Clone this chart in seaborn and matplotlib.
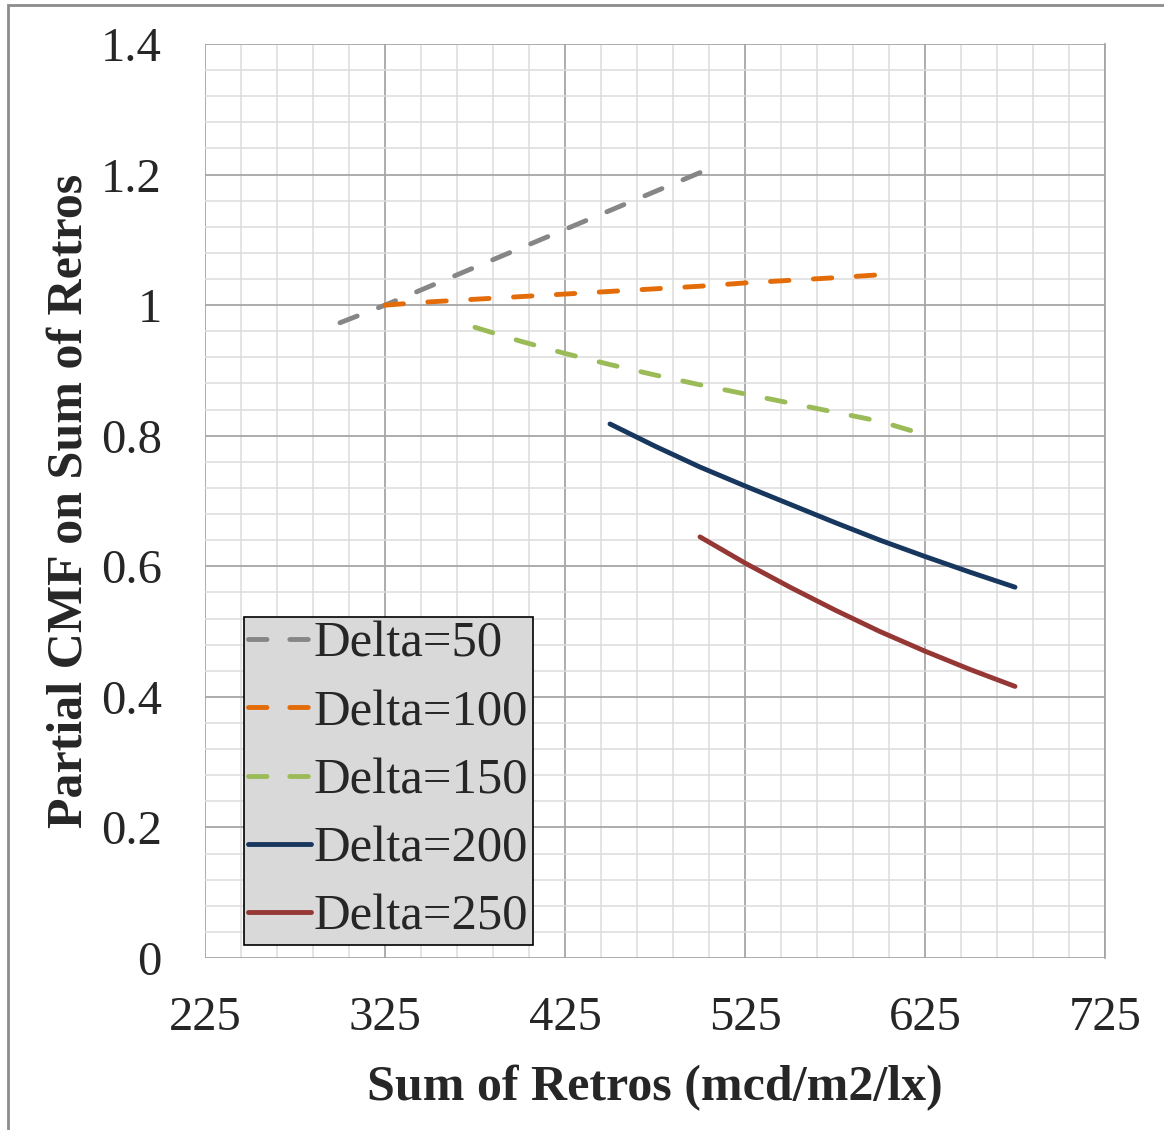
import numpy as np
import matplotlib
matplotlib.use("Agg")
import matplotlib.pyplot as plt
import seaborn as sns
import pandas as pd
from matplotlib.patches import Rectangle

# Values
x_d50 = [300, 325, 350, 375, 400, 425, 450, 475, 500]
y_d50 = [0.973, 1.000, 1.029, 1.058, 1.087, 1.116, 1.145, 1.174, 1.203]

x_d100 = [325, 350, 375, 400, 425, 450, 475, 500, 525, 550, 575, 597]
y_d100 = [1.000, 1.005, 1.009, 1.013, 1.017, 1.021, 1.025, 1.029, 1.034, 1.038, 1.042, 1.046]

x_d150 = [375, 400, 425, 450, 475, 500, 525, 550, 575, 600, 617]
y_d150 = [0.966, 0.945, 0.926, 0.909, 0.893, 0.878, 0.864, 0.850, 0.836, 0.822, 0.808]

x_d200 = [450, 475, 500, 525, 550, 575, 600, 625, 650, 675]
y_d200 = [0.818, 0.784, 0.752, 0.723, 0.695, 0.667, 0.640, 0.615, 0.591, 0.568]

x_d250 = [500, 525, 550, 575, 600, 625, 650, 675]
y_d250 = [0.645, 0.605, 0.568, 0.533, 0.500, 0.470, 0.442, 0.416]

labels = ["Delta=50", "Delta=100", "Delta=150", "Delta=200", "Delta=250"]
colors = ["#868686", "#e36c09", "#9bbb59", "#17375e", "#953735"]
dashed = [True, True, True, False, False]

x_ticks = [225, 325, 425, 525, 625, 725]
y_ticks = [0, 0.2, 0.4, 0.6, 0.8, 1.0, 1.2, 1.4]
y_tick_labels = ["0", "0.2", "0.4", "0.6", "0.8", "1", "1.2", "1.4"]

frames = []
for lab, xs, ys in zip(labels,
                       [x_d50, x_d100, x_d150, x_d200, x_d250],
                       [y_d50, y_d100, y_d150, y_d200, y_d250]):
    frames.append(pd.DataFrame({"x": xs, "y": ys, "series": lab}))
df = pd.concat(frames, ignore_index=True)

sns.set_style("white")
plt.rcParams["font.family"] = ["Liberation Serif", "DejaVu Serif"]

fig = plt.figure(figsize=(11.64, 11.30), dpi=100)
ax = fig.add_axes([205 / 1164, 1 - 958 / 1130, 900 / 1164, 914 / 1130])

lw = 3.5
dash = (3.8, 4.7)

sns.lineplot(data=df, x="x", y="y", hue="series", hue_order=labels,
             palette=colors, sort=False, estimator=None, ax=ax,
             linewidth=lw, legend=False)

ax.set_xlim(225, 725)
ax.set_ylim(0, 1.4)

# dashed lines: stretch the gap a little so both ends land on a dash
for line, d in zip(ax.lines, dashed):
    line.set_solid_capstyle("round")
    line.set_solid_joinstyle("round")
    line.set_dash_capstyle("round")
    if d:
        pts = ax.transData.transform(np.column_stack(line.get_data()))
        length = np.sum(np.hypot(*np.diff(pts, axis=0).T)) * 72 / fig.dpi / lw
        n = max(1, round((length - dash[0]) / sum(dash)))
        gap = (length - dash[0]) / n - dash[0]
        line.set_dashes((dash[0], gap))

ax.set_xticks(x_ticks)
ax.set_xticklabels([str(v) for v in x_ticks])
ax.set_xticks(np.arange(225, 726, 20), minor=True)
ax.set_yticks(y_ticks)
ax.set_yticklabels(y_tick_labels)
ax.set_yticks(np.linspace(0, 1.4, 36), minor=True)

ax.grid(which="major", color="#a6a6a6", linewidth=1.3)
ax.grid(which="minor", color="#dcdcdc", linewidth=1.1)
ax.set_axisbelow(True)

for s in ["left", "bottom", "top"]:
    ax.spines[s].set_visible(False)
ax.spines["right"].set_color("#a6a6a6")
ax.spines["right"].set_linewidth(1.3)

ax.tick_params(axis="both", which="major", length=15, width=1.3,
               color="#a6a6a6", labelsize=35)
ax.tick_params(axis="both", which="minor", length=0)
ax.tick_params(axis="x", pad=12)
ax.tick_params(axis="y", pad=16)

ax.set_xlabel("Sum of Retros (mcd/m2/lx)", fontsize=36, fontweight="bold",
              labelpad=18)
ax.set_ylabel("Partial CMF on Sum of Retros", fontsize=36, fontweight="bold",
              labelpad=6)

handles = [plt.Line2D([], [], color=c, linewidth=lw,
                      linestyle=(0, dash) if d else "-",
                      dash_capstyle="round", solid_capstyle="round")
           for c, d in zip(colors, dashed)]
leg = ax.legend(handles, labels, loc="lower left",
                bbox_to_anchor=(39 / 900, 13 / 914), fontsize=36.5,
                frameon=True, fancybox=False, handlelength=1.25,
                handletextpad=0.05, borderpad=0.08, labelspacing=0.43,
                borderaxespad=0)
leg.get_frame().set_facecolor("#d9d9d9")
leg.get_frame().set_edgecolor("black")
leg.get_frame().set_linewidth(1.2)
leg.get_frame().set_alpha(1)

# outer chart border (top and left edges visible)
fig.patches.append(Rectangle((8 / 1164, -0.1), 1.2, 1.1 - 5 / 1130,
                             transform=fig.transFigure, fill=False,
                             edgecolor="#8c8c8c", linewidth=2))

fig.savefig("out.png", dpi=100)
